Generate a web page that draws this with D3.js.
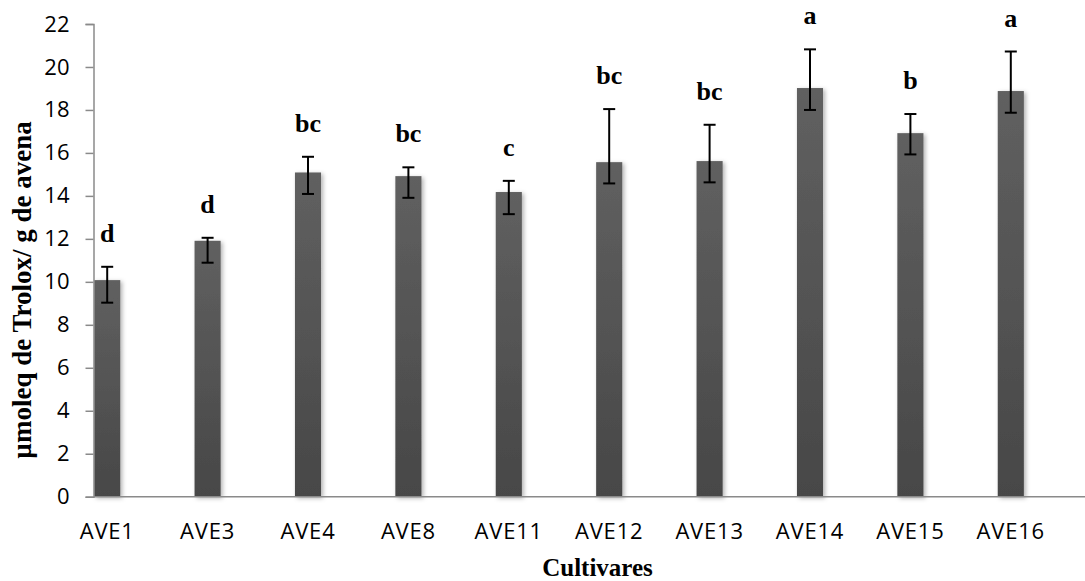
<!DOCTYPE html>
<html>
<head>
<meta charset="utf-8">
<script src="https://cdn.jsdelivr.net/npm/d3@7"></script>
<style>
  html, body { margin: 0; padding: 0; background: #fff; }
  svg { display: block; }
</style>
</head>
<body>
<svg id="chart" width="1085" height="581"></svg>
<script>
// Antioxidant capacity per oat cultivar (mean with error range and Tukey letters)
const cultivars = ["AVE1", "AVE3", "AVE4", "AVE8", "AVE11", "AVE12", "AVE13", "AVE14", "AVE15", "AVE16"];
const means     = [10.08, 11.91, 15.09, 14.92, 14.18, 15.57, 15.62, 19.02, 16.92, 18.88];
const errHigh   = [10.70, 12.05, 15.82, 15.33, 14.70, 18.04, 17.31, 20.82, 17.81, 20.72];
const errLow    = [9.03, 10.89, 14.09, 13.91, 13.15, 14.58, 14.63, 18.00, 15.93, 17.87];
const groups    = ["d", "d", "bc", "bc", "c", "bc", "bc", "a", "b", "a"];
const yTicks    = [0, 2, 4, 6, 8, 10, 12, 14, 16, 18, 20, 22];

const rows = cultivars.map((c, i) => ({
  name: c, mean: means[i], hi: errHigh[i], lo: errLow[i], group: groups[i]
}));

const svg = d3.select("#chart");
const axisColor = "#8a8a8a";
const sansFont = "'Open Sans', 'Liberation Sans', sans-serif";
const serifFont = "'Liberation Serif', 'Times New Roman', serif";

const x = d3.scaleBand()
  .domain(cultivars)
  .range([57, 1061])
  .paddingInner(0.74)
  .paddingOuter(0.37);

const y = d3.scaleLinear()
  .domain([0, 22])
  .range([496.7, 24]);

const axisX = 93.5;

// bar shading and soft shadow
const defs = svg.append("defs");
const grad = defs.append("linearGradient")
  .attr("id", "barFill").attr("x1", 0).attr("y1", 0).attr("x2", 0).attr("y2", 1);
grad.append("stop").attr("offset", "0%").attr("stop-color", "#606060");
grad.append("stop").attr("offset", "100%").attr("stop-color", "#474747");

const shadow = defs.append("filter")
  .attr("id", "barShadow")
  .attr("x", "-30%").attr("y", "-10%").attr("width", "170%").attr("height", "130%");
shadow.append("feDropShadow")
  .attr("dx", 2).attr("dy", 1.5).attr("stdDeviation", 2)
  .attr("flood-color", "#000").attr("flood-opacity", 0.3);

// bars
svg.append("g").selectAll("rect")
  .data(rows)
  .join("rect")
  .attr("x", d => x(d.name))
  .attr("y", d => y(d.mean))
  .attr("width", x.bandwidth())
  .attr("height", d => y(0) - y(d.mean))
  .attr("fill", "url(#barFill)")
  .attr("filter", "url(#barShadow)");

// y axis
const yAxis = d3.axisLeft(y).tickValues(yTicks).tickSize(8).tickPadding(16).tickFormat(d3.format("d"));
const gy = svg.append("g").attr("transform", `translate(${axisX},0)`).call(yAxis);
gy.select(".domain").attr("stroke", axisColor).attr("stroke-width", 1.5);
gy.selectAll(".tick line").attr("stroke", axisColor).attr("stroke-width", 1.5);
gy.selectAll(".tick text")
  .attr("font-family", sansFont).attr("font-size", 22).attr("fill", "#000");

// x axis baseline running to the right edge
svg.append("line")
  .attr("x1", axisX).attr("x2", 1085)
  .attr("y1", y(0)).attr("y2", y(0))
  .attr("stroke", axisColor).attr("stroke-width", 1.5);

// category labels
svg.append("g").selectAll("text")
  .data(rows)
  .join("text")
  .attr("x", d => x(d.name) + x.bandwidth() / 2)
  .attr("y", 539)
  .attr("text-anchor", "middle")
  .attr("font-family", sansFont)
  .attr("font-size", 22)
  .attr("letter-spacing", "0.8px")
  .attr("fill", "#000")
  .text(d => d.name);

// error bars
const eb = svg.append("g").attr("stroke", "#000").attr("stroke-width", 2);
rows.forEach(d => {
  const cx = x(d.name) + x.bandwidth() / 2;
  eb.append("line").attr("x1", cx).attr("x2", cx).attr("y1", y(d.hi)).attr("y2", y(d.lo));
  eb.append("line").attr("x1", cx - 6).attr("x2", cx + 6).attr("y1", y(d.hi)).attr("y2", y(d.hi));
  eb.append("line").attr("x1", cx - 6).attr("x2", cx + 6).attr("y1", y(d.lo)).attr("y2", y(d.lo));
});

// significance letters
svg.append("g").selectAll("text")
  .data(rows)
  .join("text")
  .attr("x", d => x(d.name) + x.bandwidth() / 2)
  .attr("y", d => y(d.hi) - 25)
  .attr("text-anchor", "middle")
  .attr("font-family", serifFont)
  .attr("font-weight", "bold")
  .attr("font-size", 26)
  .attr("fill", "#000")
  .text(d => d.group);

// axis titles
svg.append("text")
  .attr("x", 597.5).attr("y", 576)
  .attr("text-anchor", "middle")
  .attr("font-family", serifFont).attr("font-weight", "bold").attr("font-size", 25)
  .attr("fill", "#000")
  .text("Cultivares");

svg.append("text")
  .attr("transform", "translate(31,290) rotate(-90)")
  .attr("text-anchor", "middle")
  .attr("font-family", serifFont).attr("font-weight", "bold").attr("font-size", 27)
  .attr("fill", "#000")
  .text("µmoleq de Trolox/ g de avena");
</script>
</body>
</html>
